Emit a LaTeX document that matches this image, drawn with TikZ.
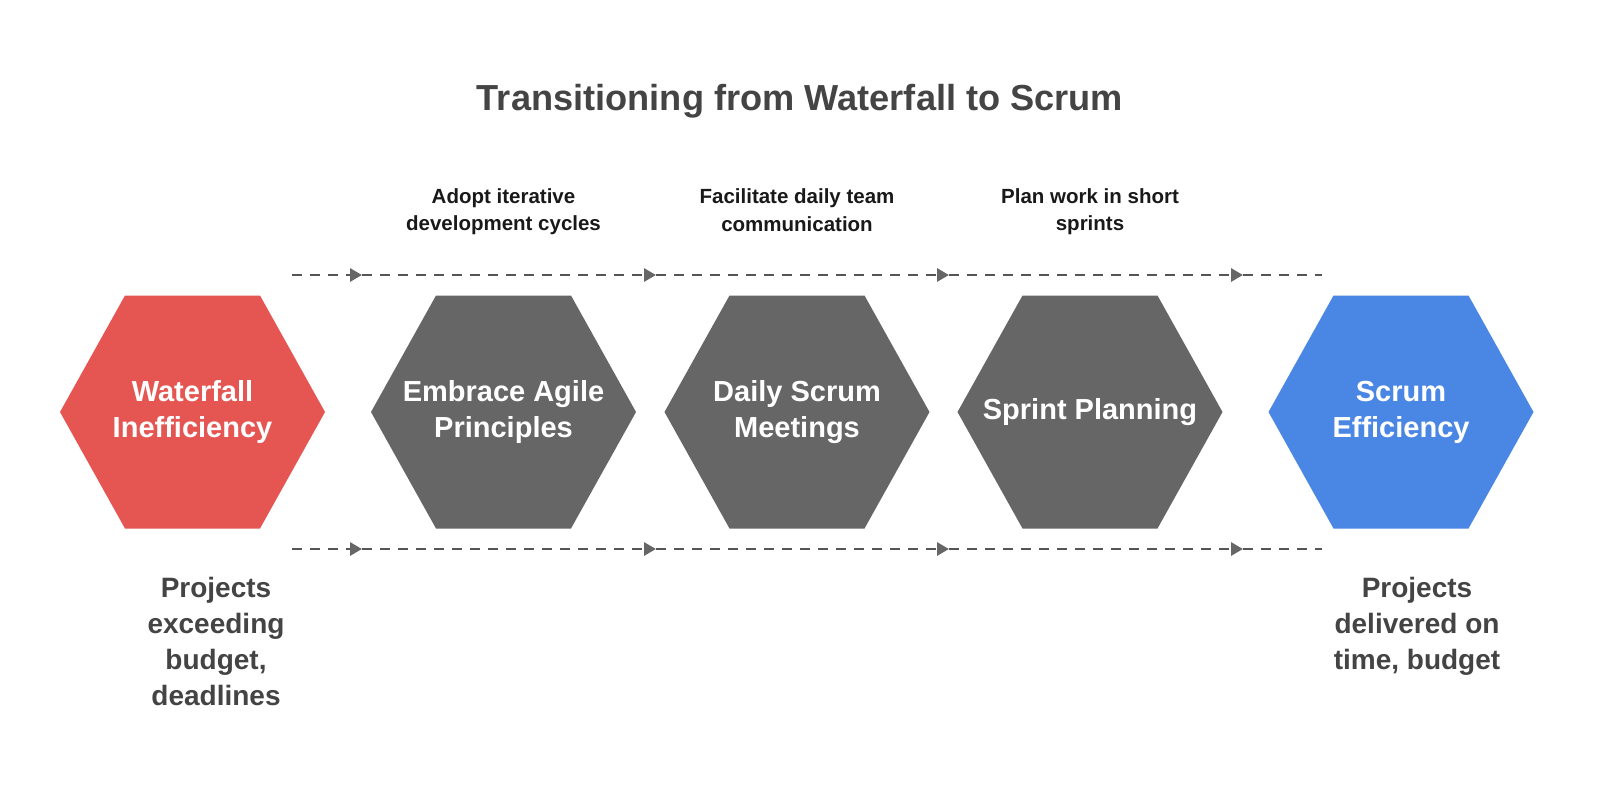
\documentclass[tikz,border=0pt]{standalone}
\usepackage{fontspec}
\setmainfont{Liberation Sans}
\usetikzlibrary{arrows.meta}
\definecolor{hexred}{RGB}{229,86,82}
\definecolor{hexgray}{RGB}{102,102,102}
\definecolor{hexblue}{RGB}{74,135,228}
\definecolor{txtdark}{RGB}{68,68,68}
\definecolor{dashcol}{RGB}{85,85,85}
\begin{document}
\begin{tikzpicture}[x=1pt,y=-1pt,
  hexlabel/.style={text=white,font=\bfseries\fontsize{29}{36}\selectfont,align=center,inner sep=0pt},
  toplabel/.style={text=black!90,font=\bfseries\fontsize{20.5}{27.5}\selectfont,align=center,inner sep=0pt},
  botlabel/.style={text=txtdark,font=\bfseries\fontsize{28}{36}\selectfont,align=center,inner sep=0pt},
  flow/.style={draw=dashcol,line width=2.9pt,dash pattern=on 10pt off 8pt},
  flowarrow/.style={flow,-{Triangle[length=12pt,width=13pt,fill=hexgray,color=hexgray]}},
  hexshape/.style={fill=#1,draw=none}
]
\useasboundingbox (0,0) rectangle (1600,788);
\fill[white] (0,0) rectangle (1600,788);

% hexagons
\foreach \cx/\col in {192.5/hexred,503.5/hexgray,797/hexgray,1090/hexgray,1401/hexblue}{
  \fill[\col] (\cx-132.5,412) -- (\cx-67.5,295.5) -- (\cx+67.5,295.5) -- (\cx+132.5,412)
     -- (\cx+67.5,528.5) -- (\cx-67.5,528.5) -- cycle;
}

% title
\node[text=txtdark,font=\bfseries\fontsize{36.2}{42}\selectfont] (title) at (800,101) {Transitioning from Waterfall to Scrum};

% hexagon labels
\node[hexlabel] (h1) at (192.5,412) {Waterfall\\Inefficiency};
\node[hexlabel] (h2) at (503.5,412) {Embrace Agile\\Principles};
\node[hexlabel] (h3) at (797,412) {Daily Scrum\\Meetings};
\node[hexlabel] (h4) at (1090,412) {Sprint Planning};
\node[hexlabel] (h5) at (1401,412) {Scrum\\Efficiency};

% top labels
\node[toplabel] (t2) at (503.5,211.5) {Adopt iterative\\development cycles};
\node[toplabel] (t3) at (797,210) {Facilitate daily team\\communication};
\node[toplabel] (t4) at (1090,211.5) {Plan work in short\\sprints};

% bottom labels
\node[botlabel] (b1) at (216,641) {Projects\\exceeding\\budget,\\deadlines};
\node[botlabel] (b5) at (1417,626) {Projects\\delivered on\\time, budget};

% dashed connectors
\foreach \y/\n in {275/t,549/b}{
  \coordinate (\n0) at (292,\y);
  \coordinate (\n1) at (362,\y);
  \coordinate (\n2) at (656,\y);
  \coordinate (\n3) at (949,\y);
  \coordinate (\n4) at (1243,\y);
  \coordinate (\n5) at (1322,\y);
  \draw[flowarrow] (\n0) -- (\n1);
  \draw[flowarrow] (\n1) -- (\n2);
  \draw[flowarrow] (\n2) -- (\n3);
  \draw[flowarrow] (\n3) -- (\n4);
  \draw[flow] (\n4) -- (\n5);
}
\end{tikzpicture}
\end{document}
